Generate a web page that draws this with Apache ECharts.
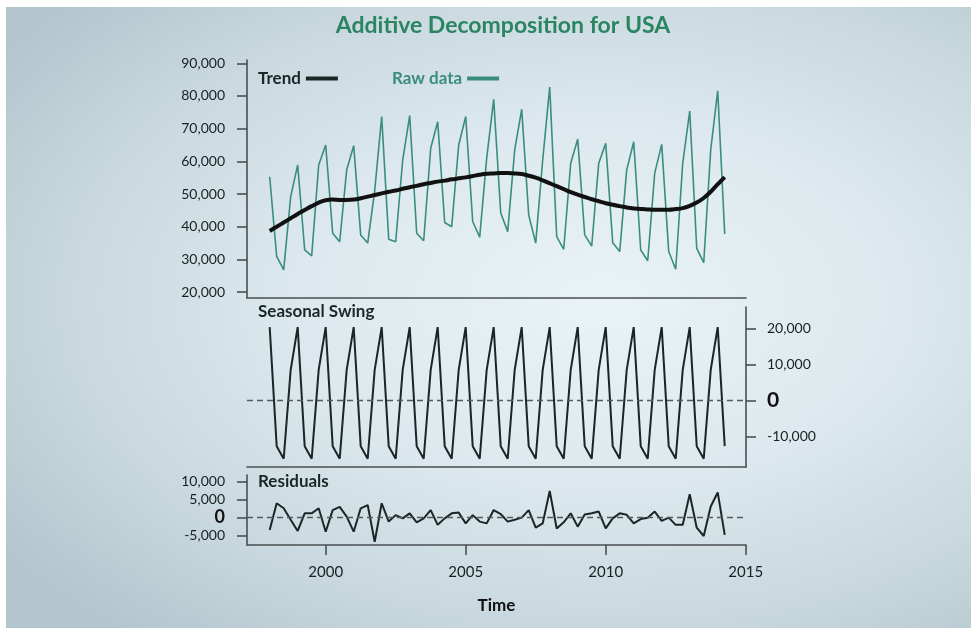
<!DOCTYPE html>
<html>
<head>
<meta charset="utf-8">
<script src="https://cdn.jsdelivr.net/npm/echarts@6/dist/echarts.min.js"></script>
<style>
html{margin:0;padding:0;min-height:100%;
background:radial-gradient(ellipse 75% 70% at 62% 48%, #eaf3f6 0%, #dde9ee 40%, #c9d9df 72%, #b3c5cd 100%) no-repeat #c3d4db;
background-attachment:fixed;}
body{margin:0;padding:0;overflow:hidden;}
#wt{position:fixed;left:0;top:0;right:0;height:7px;background:#ffffff;}
#wl{position:fixed;left:0;top:0;bottom:0;width:6px;background:#ffffff;}
#chart{position:absolute;left:0;top:0;width:971px;height:628px;}
</style>
</head>
<body>
<div id="wt"></div>
<div id="wl"></div>
<div id="chart"></div>
<script>
// quarterly observations, 1998 Q1 .. 2014 Q2
const startYear = 1998;
const rawData = [
  55300, 30900, 26800, 49200,
  58900, 32900, 31100, 58900,
  65000, 38000, 35400, 57400,
  64800, 37500, 35000, 51000,
  73700, 36200, 35400, 60400,
  74000, 38000, 35700, 64000,
  72100, 41300, 40000, 65000,
  73700, 41600, 36800, 61000,
  79000, 44300, 38500, 63500,
  75900, 43600, 35000, 60400,
  82700, 37000, 33100, 59400,
  66800, 37500, 34100, 59400,
  65500, 35100, 32400, 57400,
  66000, 32900, 29600, 56400,
  65200, 32400, 27000, 59400,
  75400, 33400, 29000, 63500,
  81600, 37800
];
const trendData = [
  38700, 40000, 41300, 42600,
  43900, 45100, 46300, 47400,
  48100, 48300, 48200, 48200,
  48300, 48700, 49200, 49700,
  50200, 50700, 51100, 51600,
  52100, 52500, 53000, 53400,
  53800, 54100, 54500, 54800,
  55100, 55500, 55900, 56200,
  56300, 56400, 56400, 56300,
  56100, 55600, 55000, 54200,
  53300, 52400, 51500, 50600,
  49800, 49100, 48400, 47800,
  47200, 46700, 46300, 45900,
  45600, 45400, 45300, 45200,
  45200, 45200, 45400, 45700,
  46400, 47400, 48800, 50700,
  53000, 55200
];
const seasonalData = [
  20400, -12700, -16200, 8500,
  20400, -12700, -16200, 8500,
  20400, -12700, -16200, 8500,
  20400, -12700, -16200, 8500,
  20400, -12700, -16200, 8500,
  20400, -12700, -16200, 8500,
  20400, -12700, -16200, 8500,
  20400, -12700, -16200, 8500,
  20400, -12700, -16200, 8500,
  20400, -12700, -16200, 8500,
  20400, -12700, -16200, 8500,
  20400, -12700, -16200, 8500,
  20400, -12700, -16200, 8500,
  20400, -12700, -16200, 8500,
  20400, -12700, -16200, 8500,
  20400, -12700, -16200, 8500,
  20400, -12700
];
const residualData = [
  -3500, 3900, 2500, -700,
  -3800, 1100, 1100, 2500,
  -4000, 2000, 2900, 200,
  -4000, 2500, 3400, -6800,
  3900, -1200, 600, -300,
  1100, -1400, -300, 2000,
  -2100, -300, 1100, 1300,
  -1700, 600, -1200, -1700,
  2000, 900, -1200, -700,
  -100, 2000, -2900, -1700,
  7300, -3100, -1400, 1100,
  -2600, 800, 1100, 1600,
  -3100, -300, 1100, 700,
  -1700, -500, -100, 1600,
  -1000, -100, -2100, -2100,
  6400, -2900, -5200, 3000,
  6900, -4900
];
const topTicks = [20000, 30000, 40000, 50000, 60000, 70000, 80000, 90000];
const seasonalTicks = [-10000, 0, 10000, 20000];
const residualTicks = [-5000, 0, 5000, 10000];
const yearTicks = [2000, 2005, 2010, 2015];

const time = rawData.map((_, i) => startYear + i / 4);
const pairs = arr => arr.map((v, i) => [time[i], v]);

const FONT = 'Lato';
const AXIS_COLOR = '#4a4f52';
const TEXT = '#182020';
const fmt = v => v.toLocaleString('en-US');

const xBase = {
  type: 'value', min: 1997.19, max: 2015.01,
  axisLine: {show: true, onZero: false, lineStyle: {color: AXIS_COLOR, width: 1.6}},
  axisTick: {show: false}, axisLabel: {show: false}, splitLine: {show: false}
};

const chart = echarts.init(document.getElementById('chart'));
chart.setOption({
  animation: false,
  textStyle: {fontFamily: FONT},
  grid: [
    {left: 247, right: 225, top: 60, height: 238},
    {left: 247, right: 225, top: 307, height: 160},
    {left: 247, right: 225, top: 475, height: 70}
  ],
  xAxis: [
    Object.assign({}, xBase, {gridIndex: 0}),
    Object.assign({}, xBase, {gridIndex: 1}),
    Object.assign({}, xBase, {
      gridIndex: 2,
      axisTick: {show: true, length: 10, customValues: yearTicks, lineStyle: {color: AXIS_COLOR, width: 1.6}},
      axisLabel: {show: true, customValues: yearTicks, formatter: v => String(Math.round(v)),
        margin: 20, color: TEXT, fontSize: 15, fontFamily: FONT},
      name: 'Time', nameLocation: 'middle', nameGap: 52,
      nameTextStyle: {fontSize: 17, fontWeight: 'bold', color: '#111', fontFamily: FONT}
    })
  ],
  yAxis: [
    {
      type: 'value', gridIndex: 0, position: 'left', min: 18200, max: 91000,
      axisLine: {show: true, lineStyle: {color: AXIS_COLOR, width: 1.6}},
      axisTick: {show: true, length: 10, customValues: topTicks, lineStyle: {color: AXIS_COLOR, width: 1.6}},
      axisLabel: {customValues: topTicks, formatter: fmt, margin: 22, color: TEXT, fontSize: 14, fontFamily: FONT},
      splitLine: {show: false}
    },
    {
      type: 'value', gridIndex: 1, position: 'right', min: -18500, max: 26000,
      axisLine: {show: true, lineStyle: {color: AXIS_COLOR, width: 1.6}},
      axisTick: {show: true, length: 10, customValues: seasonalTicks, lineStyle: {color: AXIS_COLOR, width: 1.6}},
      axisLabel: {
        customValues: seasonalTicks, margin: 21, color: TEXT, fontSize: 14, fontFamily: FONT,
        formatter: v => v === 0 ? '{z|0}' : fmt(v),
        rich: {z: {fontSize: 21, fontWeight: 'bold', color: '#111', fontFamily: FONT}}
      },
      splitLine: {show: false}
    },
    {
      type: 'value', gridIndex: 2, position: 'left', min: -7700, max: 11750,
      axisLine: {show: true, lineStyle: {color: AXIS_COLOR, width: 1.6}},
      axisTick: {show: true, length: 10, customValues: residualTicks, lineStyle: {color: AXIS_COLOR, width: 1.6}},
      axisLabel: {
        customValues: residualTicks, margin: 22, color: TEXT, fontSize: 14, fontFamily: FONT,
        formatter: v => v === 0 ? '{z|0}' : fmt(v),
        rich: {z: {fontSize: 18, fontWeight: 'bold', color: '#111', fontFamily: FONT}}
      },
      splitLine: {show: false}
    }
  ],
  legend: {
    left: 258, top: 70, padding: 0, align: 'right', icon: 'rect',
    itemWidth: 32, itemHeight: 4, itemGap: 54,
    textStyle: {fontSize: 17, fontWeight: 'bold', fontFamily: FONT},
    data: [
      {name: 'Trend', textStyle: {color: '#1b2727'}},
      {name: 'Raw data', textStyle: {color: '#3a8d7e'}}
    ]
  },
  graphic: [
    {type: 'text', x: 503, y: 26, style: {text: 'Additive Decomposition for USA', fill: '#2b8462',
      font: 'bold 23px ' + FONT, textAlign: 'center', textVerticalAlign: 'middle'}},
    {type: 'text', x: 258, y: 312, style: {text: 'Seasonal Swing', fill: '#1b2727',
      font: 'bold 17px ' + FONT, textAlign: 'left', textVerticalAlign: 'middle'}},
    {type: 'text', x: 258, y: 482, style: {text: 'Residuals', fill: '#1b2727',
      font: 'bold 17px ' + FONT, textAlign: 'left', textVerticalAlign: 'middle'}}
  ],
  series: [
    {name: 'Raw data', type: 'line', xAxisIndex: 0, yAxisIndex: 0, data: pairs(rawData),
      showSymbol: false, symbol: 'none', lineStyle: {color: '#3a8d7e', width: 1.6}, itemStyle: {color: '#3a8d7e'}, z: 2},
    {name: 'Trend', type: 'line', xAxisIndex: 0, yAxisIndex: 0, data: pairs(trendData), smooth: 0.3,
      showSymbol: false, symbol: 'none', lineStyle: {color: '#111111', width: 4}, itemStyle: {color: '#1b2727'}, z: 3},
    {name: 'Seasonal', type: 'line', xAxisIndex: 1, yAxisIndex: 1, data: pairs(seasonalData),
      showSymbol: false, symbol: 'none', lineStyle: {color: '#1c2525', width: 2},
      markLine: {silent: true, symbol: 'none', label: {show: false},
        lineStyle: {color: '#555a5c', type: [6, 4], width: 1.3}, data: [{yAxis: 0}]}},
    {name: 'Residuals', type: 'line', xAxisIndex: 2, yAxisIndex: 2, data: pairs(residualData),
      showSymbol: false, symbol: 'none', lineStyle: {color: '#1c2525', width: 2},
      markLine: {silent: true, symbol: 'none', label: {show: false},
        lineStyle: {color: '#555a5c', type: [6, 4], width: 1.3}, data: [{yAxis: 0}]}}
  ]
});
</script>
</body>
</html>
